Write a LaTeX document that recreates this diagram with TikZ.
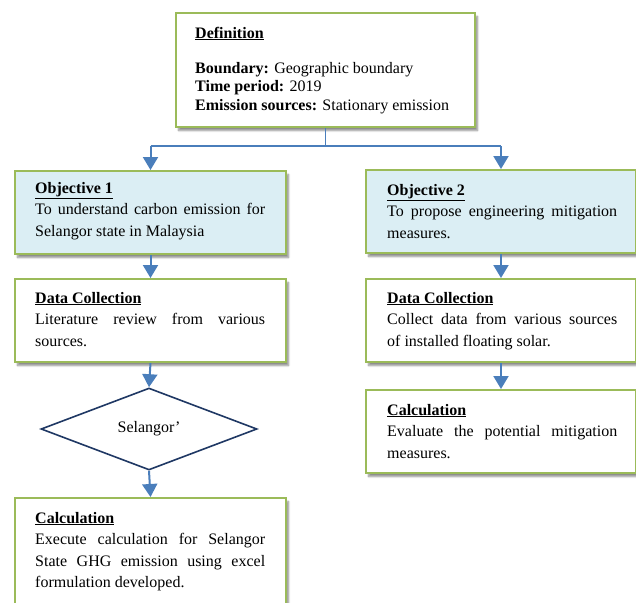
\documentclass[tikz,border=0pt]{standalone}
\usepackage{fontspec}
\setmainfont{Liberation Serif}
\usetikzlibrary{shapes.geometric,shadows.blur,arrows.meta}
\definecolor{bgreen}{HTML}{9BBB59}
\definecolor{lblue}{HTML}{DBEEF4}
\definecolor{arrblue}{HTML}{4A7EBB}
\definecolor{navy}{HTML}{1F3864}
\newcommand{\ttl}[1]{\underline{\textbf{#1}}}
\newcommand{\bodytext}[1]{\parbox[t]{230pt}{\tolerance=10000\hyphenpenalty=10000 #1}}
\tikzset{
  box/.style={draw=bgreen, line width=2pt, fill=white, rectangle, anchor=north west,
    inner sep=0pt, minimum width=271pt, minimum height=83pt,
    blur shadow={shadow xshift=2.5pt, shadow yshift=-3.5pt, shadow blur steps=6, shadow opacity=45}},
  objbox/.style={box, fill=lblue},
  txt/.style={anchor=base west, inner sep=0pt, font=\fontsize{16}{21.5}\selectfont},
  conn/.style={draw=arrblue, line width=2pt, -{Triangle[length=13pt,width=15pt]}},
  link/.style={draw=arrblue, line width=1.6pt},
}
\begin{document}
\begin{tikzpicture}[x=1pt,y=-1pt]
\path[use as bounding box, clip] (0,0) rectangle (636,602);

% Definition
\node[box, minimum width=299pt, minimum height=114pt] (def) at (175,12) {};
\node[txt] (deft) at (195,38) {\parbox[t]{275pt}{\fontsize{16}{18.5}\selectfont
  \ttl{Definition}\\[16.5pt]
  \textbf{Boundary:} Geographic boundary\\
  \textbf{Time period:} 2019\\
  \textbf{Emission sources:} Stationary emission}};

% Left column
\node[objbox] (o1) at (14,170) {};
\node[txt] (o1t) at (35,193) {\bodytext{\ttl{Objective 1}\\
  To understand carbon emission for\linebreak Selangor state in Malaysia}};

\node[box] (dc1) at (14,278) {};
\node[txt] (dc1t) at (35,303) {\bodytext{\ttl{Data Collection}\\
  Literature review from various\linebreak sources.}};

\node[draw=navy, line width=1.6pt, shape=diamond, aspect=2.6, inner sep=0pt,
  minimum width=216pt, minimum height=82pt, fill=white,
  font=\fontsize{16}{19}\selectfont] (dia) at (149,429) {Selangor’};

\node[box, minimum height=130pt] (c1) at (14,497) {};
\node[txt] (c1t) at (35,523) {\bodytext{\ttl{Calculation}\\
  Execute calculation for Selangor\linebreak State GHG emission using excel\linebreak formulation developed.}};

% Right column
\node[objbox, minimum width=270pt] (o2) at (365,169) {};
\node[txt] (o2t) at (387,195) {\bodytext{\ttl{Objective 2}\\
  To propose engineering mitigation\linebreak measures.}};

\node[box, minimum width=270pt] (dc2) at (365,278) {};
\node[txt] (dc2t) at (387,303) {\bodytext{\ttl{Data Collection}\\
  Collect data from various sources\linebreak of installed floating solar.}};

\node[box, minimum width=270pt] (c2) at (365,389) {};
\node[txt] (c2t) at (387,415) {\bodytext{\ttl{Calculation}\\
  Evaluate the potential mitigation\linebreak measures.}};

% Connectors
\coordinate (j) at ($(def.south)+(0,18)$);
\coordinate (jl) at (o1.north |- j);
\coordinate (jr) at (o2.north |- j);
\draw[link] (def.south) -- (j);
\draw[link] (jl) -- (jr);
\draw[conn] (jl) -- (o1.north);
\draw[conn] (jr) -- (o2.north);
\draw[conn] (o1.south) -- (dc1.north);
\draw[conn] (dc1.south) -- (dia.north);
\draw[conn] (dia.south) -- (c1.north);
\draw[conn] (o2.south) -- (dc2.north);
\draw[conn] (dc2.south) -- (c2.north);
\end{tikzpicture}
\end{document}
